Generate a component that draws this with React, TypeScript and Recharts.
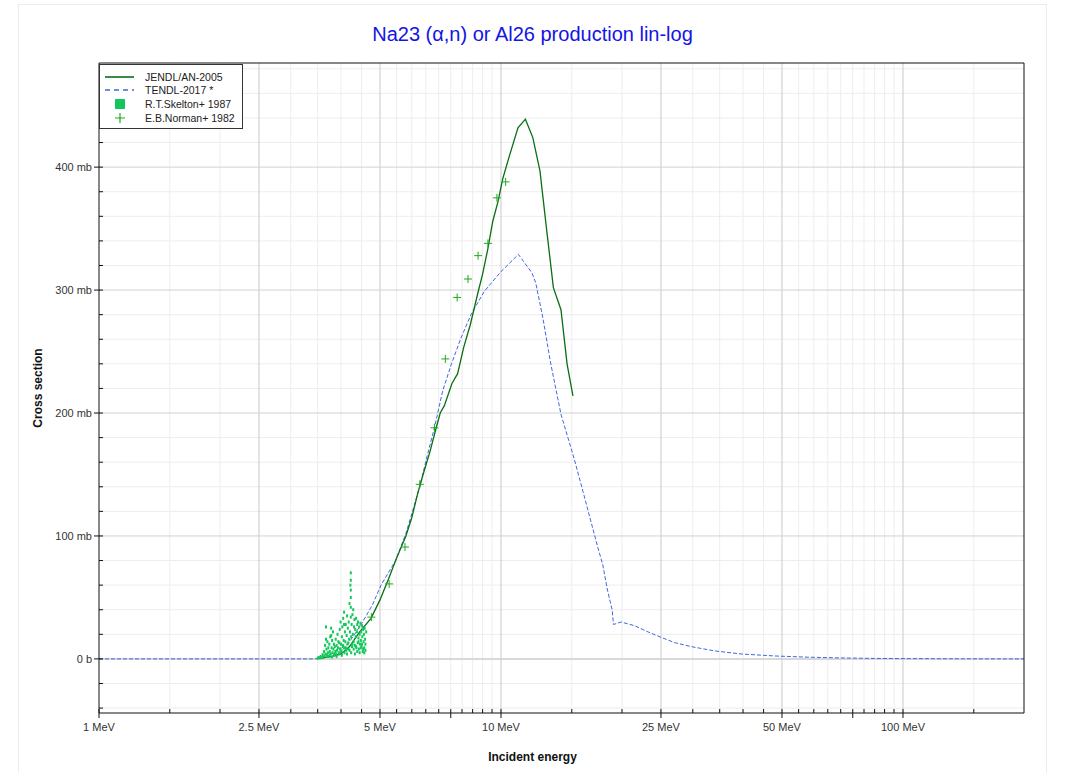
import { ComposedChart, Line, Scatter, XAxis, YAxis, ReferenceLine } from 'recharts'

// JENDL/AN-2005 evaluation
const jendlEnergy = [3.5, 3.8, 4.0, 4.2, 4.45, 4.75, 5.0, 5.25, 5.5, 5.8, 6.0, 6.2, 6.4, 6.65, 6.9, 7.06, 7.23, 7.55, 7.8, 8.07, 8.39, 8.75, 9.0, 9.28, 9.54, 9.83, 10.11, 10.49, 11.02, 11.5, 12.0, 12.5, 13.0, 13.5, 14.1, 14.6, 15.1]
const jendlXs = [0.5, 2, 4, 10, 22, 33, 48, 65, 82, 100, 115, 134, 150, 168, 188, 200, 206, 224, 232, 253, 272, 297, 313, 334, 356, 372, 391, 409, 432, 439, 424, 397, 348, 302, 284, 240, 214]

// TENDL-2017
const tendlEnergy = [1, 3.4, 3.6, 3.8, 4.0, 4.2, 4.49, 4.79, 5.03, 5.47, 5.8, 6.0, 6.3, 6.55, 6.83, 7.16, 7.53, 7.95, 8.42, 9.09, 10.0, 11.05, 11.94, 12.2, 12.7, 13.3, 14.1, 15.2, 16.0, 16.7, 17.4, 17.9, 18.4, 18.9, 19.05, 19.9, 21.5, 23.2, 25, 27, 29.7, 34, 39.6, 47.9, 58, 70, 85, 100, 130, 200]
const tendlXs = [0, 0, 0.5, 2, 6, 14, 28, 44, 60, 80, 102, 118, 142, 165, 188, 218, 240, 261, 280, 299, 315, 329, 314, 306, 278, 240, 199, 163, 136, 113, 91, 77, 56, 40, 28, 30, 27, 22, 17.6, 13.3, 10, 6.5, 4, 2.4, 1.4, 0.8, 0.4, 0.25, 0.1, 0]

// R.T.Skelton+ 1987
const skeltonEnergy = [3.5, 3.52, 3.54, 3.56, 3.58, 3.6, 3.61, 3.63, 3.64, 3.65, 3.66, 3.67, 3.67, 3.68, 3.69, 3.7, 3.71, 3.72, 3.73, 3.74, 3.75, 3.76, 3.77, 3.78, 3.78, 3.79, 3.8, 3.81, 3.82, 3.83, 3.84, 3.85, 3.86, 3.87, 3.88, 3.89, 3.9, 3.91, 3.92, 3.93, 3.94, 3.95, 3.96, 3.97, 3.98, 3.99, 4.0, 4.01, 4.02, 4.03, 4.04, 4.05, 4.06, 4.07, 4.07, 4.08, 4.09, 4.1, 4.11, 4.12, 4.13, 4.14, 4.15, 4.16, 4.17, 4.18, 4.19, 4.2, 4.21, 4.22, 4.23, 4.23, 4.23, 4.23, 4.23, 4.23, 4.24, 4.25, 4.26, 4.27, 4.28, 4.29, 4.3, 4.31, 4.32, 4.33, 4.34, 4.35, 4.36, 4.37, 4.38, 4.39, 4.4, 4.41, 4.42, 4.43, 4.44, 4.45, 4.46, 4.47, 4.48, 4.49, 4.5, 4.51, 4.52, 4.53, 4.54, 4.55, 4.56, 4.57, 4.58, 4.59, 4.6, 4.62,
  3.7, 3.75, 3.8, 3.85, 3.9, 3.96, 3.99, 4.02, 4.05, 4.08, 4.11, 4.14, 4.17, 4.2, 4.24, 4.27, 4.3, 4.33, 4.36, 4.39, 4.42, 4.45, 4.48, 4.51, 4.54, 4.57, 4.6]
const skeltonXs = [0.5, 1.2, 0.8, 2, 1, 3.5, 1.5, 6, 2.5, 11, 4, 26, 16, 8, 3, 14, 5, 9, 2, 12, 6, 18, 4, 25, 19, 9, 15, 5, 22, 8, 12, 3, 10, 6, 16, 4, 11, 7, 20, 9, 14, 5, 13, 24, 8, 30, 12, 6, 18, 26, 10, 33, 15, 38, 28, 9, 22, 14, 28, 7, 19, 35, 12, 25, 8, 30, 16, 45, 22, 60, 70, 64, 56, 50, 42, 34, 18, 28, 10, 36, 20, 40, 14, 26, 32, 11, 24, 18, 33, 9, 22, 28, 13, 30, 17, 8, 26, 20, 12, 29, 15, 22, 10, 27, 18, 6, 24, 14, 20, 9, 25, 16, 12, 22,
  2, 3, 1.5, 4, 2, 4, 8, 3, 11, 5, 9, 4, 13, 7, 5, 12, 8, 4, 10, 6, 14, 5, 9, 12, 8, 5, 7]

// E.B.Norman+ 1982
const normanEnergy = [4.76, 5.27, 5.77, 6.28, 6.83, 7.27, 7.78, 8.28, 8.77, 9.28, 9.77, 10.27]
const normanXs = [34, 61, 91, 142, 188, 244, 294, 309, 328, 338, 375, 388]

// axis ticks / grid
const xLabelTicks = [1, 2.5, 5, 7.5, 10, 25, 50, 75, 100]
const xGridMajor = [2.5, 5, 10, 25, 50, 100]
const xGridMinor = [1.5, 2, 3, 3.5, 4, 4.5, 5.5, 6, 6.5, 7, 7.5, 8, 8.5, 9, 9.5, 15, 20, 30, 35, 40, 45, 55, 60, 65, 70, 75, 80, 85, 90, 95, 150]
const yLabelTicks = [0, 100, 200, 300, 400]
const yGridMinor = [-40, -20, 20, 40, 60, 80, 120, 140, 160, 180, 220, 240, 260, 280, 320, 340, 360, 380, 420, 440, 460, 480]

const xDomain = [1, 200]
const yDomain = [-44, 484.7]

const toRows = (es: number[], vs: number[]) => es.map((e, i) => ({ e, xs: vs[i] }))
const jendl = toRows(jendlEnergy, jendlXs)
const tendl = toRows(tendlEnergy, tendlXs)
const skelton = toRows(skeltonEnergy, skeltonXs)
const norman = toRows(normanEnergy, normanXs)

const xAll = [1, ...xGridMinor, ...xGridMajor].sort((a, b) => a - b)
const yAll = [...yGridMinor, ...yLabelTicks].sort((a, b) => a - b)

const FONT = "Arial, 'Liberation Sans', sans-serif"
const AXIS = '#111'
const GREEN_LINE = '#0b6e12'
const BLUE = '#3f68e0'
const PLUS_GREEN = '#1daa1d'
const SQUARE_GREEN = '#14c75a'

const PlusShape = (p: any) => (
  <path d={`M${p.cx - 4},${p.cy}h8M${p.cx},${p.cy - 4}v8`} stroke={PLUS_GREEN} strokeWidth={1} fill="none" />
)
const SquareShape = (p: any) => <rect x={p.cx - 1} y={p.cy - 1.5} width={2} height={3} fill={SQUARE_GREEN} />

const labelX = (v: number) => (v === 7.5 || v === 75 ? '' : `${v} MeV`)
const labelY = (v: number) => (v === 0 ? '0 b' : `${v} mb`)

// bottom ticks: labelled ones cross the axis, the rest point inwards
const XTick = (p: any) => {
  const v = p.payload.value
  const ay = p.y - 10
  const major = xLabelTicks.includes(v)
  const txt = major ? labelX(v) : ''
  return (
    <g>
      <line x1={p.x} x2={p.x} y1={ay - 4} y2={major ? ay + 5 : ay} stroke={AXIS} />
      {txt && (
        <text x={p.x} y={p.y} dy="0.71em" textAnchor="middle" fill="#333" fontSize={11} fontFamily={FONT}>
          {txt}
        </text>
      )}
    </g>
  )
}

const YTick = (p: any) => {
  const v = p.payload.value
  const ax = p.x + 7
  const major = yLabelTicks.includes(v)
  return (
    <g>
      <line x1={major ? ax - 5 : ax} x2={ax + 4} y1={p.y} y2={p.y} stroke={AXIS} />
      {major && (
        <text x={p.x} y={p.y} dy="0.355em" textAnchor="end" fill="#333" fontSize={11} fontFamily={FONT}>
          {labelY(v)}
        </text>
      )}
    </g>
  )
}

function LegendBox() {
  const row = { position: 'absolute' as const, left: 45, fontSize: 10.5, color: '#222', lineHeight: '12px' }
  return (
    <div style={{ position: 'absolute', left: 99, top: 64, width: 142, height: 63, border: '1px solid #333', background: '#fff', fontFamily: FONT }}>
      <svg width={40} height={63} style={{ position: 'absolute', left: 0, top: 0 }}>
        <line x1={5} x2={34} y1={12} y2={12} stroke={GREEN_LINE} strokeWidth={1.6} />
        <line x1={5} x2={34} y1={25} y2={25} stroke={BLUE} strokeWidth={1.4} strokeDasharray="5 4" />
        <rect x={15} y={34} width={10} height={10} fill={SQUARE_GREEN} />
        <path d="M20,48v10M15,53h10" stroke={PLUS_GREEN} strokeWidth={1.2} />
      </svg>
      <div style={{ ...row, top: 6 }}>JENDL/AN-2005</div>
      <div style={{ ...row, top: 19 }}>TENDL-2017 *</div>
      <div style={{ ...row, top: 33 }}>R.T.Skelton+ 1987</div>
      <div style={{ ...row, top: 47 }}>E.B.Norman+ 1982</div>
    </div>
  )
}

export default function App() {
  return (
    <div style={{ position: 'absolute', left: 0, top: 0, width: 1071, height: 773, background: '#fff', fontFamily: FONT }}>
      <div style={{ position: 'absolute', left: 18, top: 4, width: 1027, height: 790, border: '1px solid #ececec' }} />
      <div style={{ position: 'absolute', left: 18, width: 1029, top: 23, textAlign: 'center', fontSize: 20, color: '#1414e6' }}>
        Na23 (α,n) or Al26 production lin-log
      </div>
      <div style={{ position: 'absolute', left: 18, width: 1029, top: 750, textAlign: 'center', fontSize: 12, fontWeight: 'bold', color: '#111' }}>
        Incident energy
      </div>
      <div style={{ position: 'absolute', left: 38, top: 388, transform: 'translate(-50%, -50%) rotate(-90deg)', whiteSpace: 'nowrap', fontSize: 12, fontWeight: 'bold', color: '#111' }}>
        Cross section
      </div>
      <div style={{ position: 'absolute', left: 0, top: 0 }}>
        <ComposedChart width={1071} height={773} margin={{ top: 63, right: 47, bottom: 30, left: 39 }}>
          <XAxis
            dataKey="e"
            type="number"
            scale="log"
            domain={xDomain}
            allowDataOverflow
            ticks={xAll}
            interval={0}
            tickSize={5}
            tickMargin={5}
            height={30}
            axisLine={{ stroke: AXIS }}
            tickLine={false}
            tick={XTick}
          />
          <YAxis
            dataKey="xs"
            type="number"
            domain={yDomain}
            allowDataOverflow
            ticks={yAll}
            interval={0}
            tickSize={5}
            tickMargin={2}
            width={60}
            axisLine={{ stroke: AXIS }}
            tickLine={false}
            tick={YTick}
          />
          <XAxis xAxisId="top" orientation="top" type="number" scale="log" domain={xDomain} allowDataOverflow ticks={xAll} interval={0} tick={false} tickSize={4} mirror height={1} axisLine={{ stroke: AXIS }} tickLine={{ stroke: AXIS }} />
          <YAxis yAxisId="right" orientation="right" type="number" domain={yDomain} allowDataOverflow ticks={yAll} interval={0} tick={false} tickSize={4} mirror width={1} axisLine={{ stroke: AXIS }} tickLine={{ stroke: AXIS }} />

          {yGridMinor.map((v) => (
            <ReferenceLine key={`hy${v}`} y={v} stroke="#ededed" strokeWidth={1} />
          ))}
          {xGridMinor.map((v) => (
            <ReferenceLine key={`vx${v}`} x={v} stroke="#ededed" strokeWidth={1} />
          ))}
          {yLabelTicks.map((v) => (
            <ReferenceLine key={`Hy${v}`} y={v} stroke={v === 0 ? '#d8d8d8' : '#d2d2d2'} strokeWidth={v === 0 ? 2 : 1} />
          ))}
          {xGridMajor.map((v) => (
            <ReferenceLine key={`Vx${v}`} x={v} stroke="#d2d2d2" strokeWidth={1.2} />
          ))}

          <Scatter name="R.T.Skelton+ 1987" data={skelton} dataKey="xs" shape={SquareShape} isAnimationActive={false} />
          <Line name="TENDL-2017 *" data={tendl} dataKey="xs" type="linear" stroke={BLUE} strokeWidth={1} strokeDasharray="4 2" dot={false} isAnimationActive={false} />
          <Line name="JENDL/AN-2005" data={jendl} dataKey="xs" type="linear" stroke={GREEN_LINE} strokeWidth={1.3} dot={false} isAnimationActive={false} />
          <Scatter name="E.B.Norman+ 1982" data={norman} dataKey="xs" shape={PlusShape} isAnimationActive={false} />
        </ComposedChart>
      </div>
      <LegendBox />
    </div>
  )
}
